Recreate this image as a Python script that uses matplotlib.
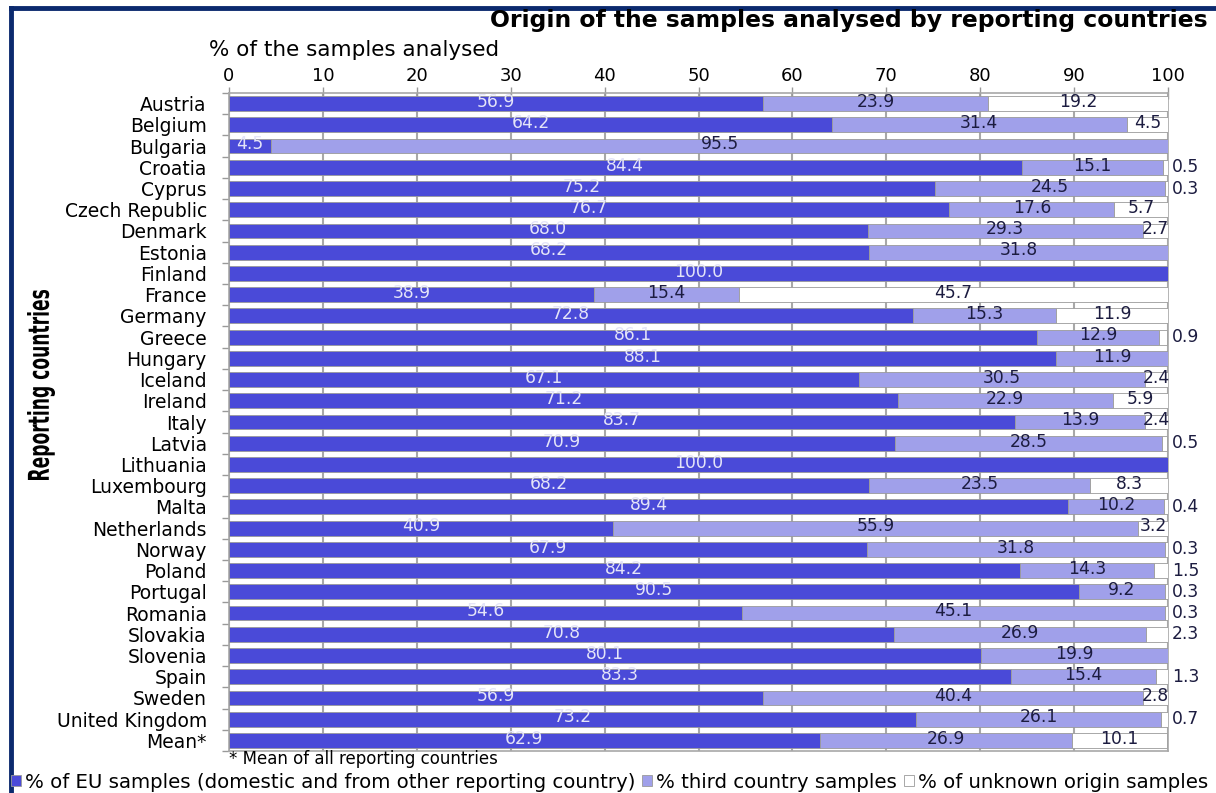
import numpy as np
import matplotlib.pyplot as plt
import matplotlib.transforms as mtransforms
from matplotlib.font_manager import FontProperties
from matplotlib.lines import Line2D
from matplotlib.patches import Patch, PathPatch
from matplotlib.textpath import TextPath

countries = [
    "Austria", "Belgium", "Bulgaria", "Croatia", "Cyprus", "Czech Republic",
    "Denmark", "Estonia", "Finland", "France", "Germany", "Greece", "Hungary",
    "Iceland", "Ireland", "Italy", "Latvia", "Lithuania", "Luxembourg", "Malta",
    "Netherlands", "Norway", "Poland", "Portugal", "Romania", "Slovakia",
    "Slovenia", "Spain", "Sweden", "United Kingdom", "Mean*",
]
eu_share = [
    56.9, 64.2, 4.5, 84.4, 75.2, 76.7, 68.0, 68.2, 100.0, 38.9, 72.8, 86.1, 88.1,
    67.1, 71.2, 83.7, 70.9, 100.0, 68.2, 89.4, 40.9, 67.9, 84.2, 90.5, 54.6, 70.8,
    80.1, 83.3, 56.9, 73.2, 62.9,
]
third_share = [
    23.9, 31.4, 95.5, 15.1, 24.5, 17.6, 29.3, 31.8, 0.0, 15.4, 15.3, 12.9, 11.9,
    30.5, 22.9, 13.9, 28.5, 0.0, 23.5, 10.2, 55.9, 31.8, 14.3, 9.2, 45.1, 26.9,
    19.9, 15.4, 40.4, 26.1, 26.9,
]
unknown_share = [
    19.2, 4.5, 0.0, 0.5, 0.3, 5.7, 2.7, 0.0, 0.0, 45.7, 11.9, 0.9, 0.0,
    2.4, 5.9, 2.4, 0.5, 0.0, 8.3, 0.4, 3.2, 0.3, 1.5, 0.3, 0.3, 2.3,
    0.0, 1.3, 2.8, 0.7, 10.1,
]
x_ticks = [0, 10, 20, 30, 40, 50, 60, 70, 80, 90, 100]

EU_COL = "#4a4ad8"
THIRD_COL = "#a0a0ea"
UNK_COL = "#ffffff"
EDGE = "#9a9a9a"
FRAME = "#0b2a6e"

plt.rcParams["font.family"] = "DejaVu Sans"

W, H = 1216, 793
fig = plt.figure(figsize=(W / 100, H / 100), dpi=100)
ax = fig.add_axes([229 / W, 1 - 751 / H, (1168 - 229) / W, (751 - 93) / H])

y = np.arange(len(countries))
eu = np.array(eu_share)
th = np.array(third_share)
un = np.array(unknown_share)
h = 0.7

ax.barh(y, eu, height=h, color=EU_COL, edgecolor=EDGE, linewidth=0.6, zorder=3)
ax.barh(y, th, left=eu, height=h, color=THIRD_COL, edgecolor=EDGE, linewidth=0.6, zorder=3)
ax.barh(y, un, left=eu + th, height=h, color=UNK_COL, edgecolor=EDGE, linewidth=0.6, zorder=3)

# segment value labels
lbl = 12.3
for i in range(len(countries)):
    if eu[i] > 0:
        ax.text(eu[i] / 2, i - 0.08, f"{eu[i]:.1f}", ha="center", va="center",
                color="#e4e4f8", fontsize=lbl, zorder=4)
    if th[i] > 0:
        ax.text(eu[i] + th[i] / 2, i - 0.08, f"{th[i]:.1f}", ha="center", va="center",
                color="#1c1c40", fontsize=lbl, zorder=4)
    if un[i] > 0:
        if un[i] >= 2.4:
            ax.text(eu[i] + th[i] + un[i] / 2, i - 0.08, f"{un[i]:.1f}", ha="center",
                    va="center", color="#1c1c40", fontsize=lbl, zorder=4)
        else:
            ax.text(100.4, i, f"{un[i]:.1f}", ha="left", va="center",
                    color="#1c1c40", fontsize=lbl, zorder=4, clip_on=False)

ax.set_xlim(0, 100)
ax.set_ylim(len(countries) - 0.5, -0.5)
ax.set_xticks(x_ticks)
ax.xaxis.tick_top()
ax.tick_params(axis="x", top=True, bottom=False, direction="inout", length=8,
               width=1, color="#999999", labelsize=13, pad=2)
ax.set_yticks(y)
ax.set_yticklabels(countries, fontsize=13.5)
ax.set_yticks(np.arange(-0.5, len(countries), 1), minor=True)
ax.tick_params(axis="y", which="major", length=0, pad=16)
ax.tick_params(axis="y", which="minor", length=5, width=1, color="#999999")
ax.grid(axis="x", color="#a8a8a8", linewidth=1.5, zorder=0)
for s in ax.spines.values():
    s.set_color("#a8a8a8")
    s.set_linewidth(1.2)

# narrow bold axis title, squeezed along its length
fp = FontProperties(family="DejaVu Sans", weight="bold")
tp = TextPath((0, 0), "Reporting countries", size=1, prop=fp)
bb = tp.get_extents()
length_px, thick_px = 190, 28
cx, cy = 41, H - 385
tr = (mtransforms.Affine2D()
      .translate(-(bb.x0 + bb.width / 2), -(bb.y0 + bb.height / 2))
      .scale(length_px / bb.width, thick_px / bb.height)
      .rotate_deg(90)
      .translate(cx, cy))
fig.add_artist(PathPatch(tp, facecolor="black", edgecolor="none",
                         transform=tr + mtransforms.IdentityTransform()))

fig.text(209 / W, 1 - 50 / H, "% of the samples analysed", fontsize=15.5,
         ha="left", va="center")
fig.text(1208 / W, 1 - 21 / H, "Origin of the samples analysed by reporting countries",
         fontsize=16.9, fontweight="bold", ha="right", va="center")
fig.text(229 / W, 1 - 759 / H, "* Mean of all reporting countries", fontsize=12,
         ha="left", va="center")

handles = [
    Patch(facecolor=EU_COL, edgecolor=EDGE, linewidth=0.6),
    Patch(facecolor=THIRD_COL, edgecolor=EDGE, linewidth=0.6),
    Patch(facecolor=UNK_COL, edgecolor=EDGE, linewidth=0.6),
]
labels = [
    "% of EU samples (domestic and from other reporting country)",
    "% third country samples",
    "% of unknown origin samples",
]
fig.legend(handles, labels, loc="center left", bbox_to_anchor=(11 / W, 1 - 782 / H),
           ncol=3, frameon=False, fontsize=14.2, handlelength=0.5, handleheight=0.5,
           handletextpad=0.2, columnspacing=0.35, borderpad=0, borderaxespad=0)

# dark frame around the panel
fig.add_artist(Line2D([11 / W, 1.0], [1 - 8 / H, 1 - 8 / H], color=FRAME,
                      linewidth=3.5, transform=fig.transFigure))
fig.add_artist(Line2D([11 / W, 11 / W], [1 - 8 / H, 0.0], color=FRAME,
                      linewidth=3.5, transform=fig.transFigure))

fig.savefig("out.png", dpi=100)
